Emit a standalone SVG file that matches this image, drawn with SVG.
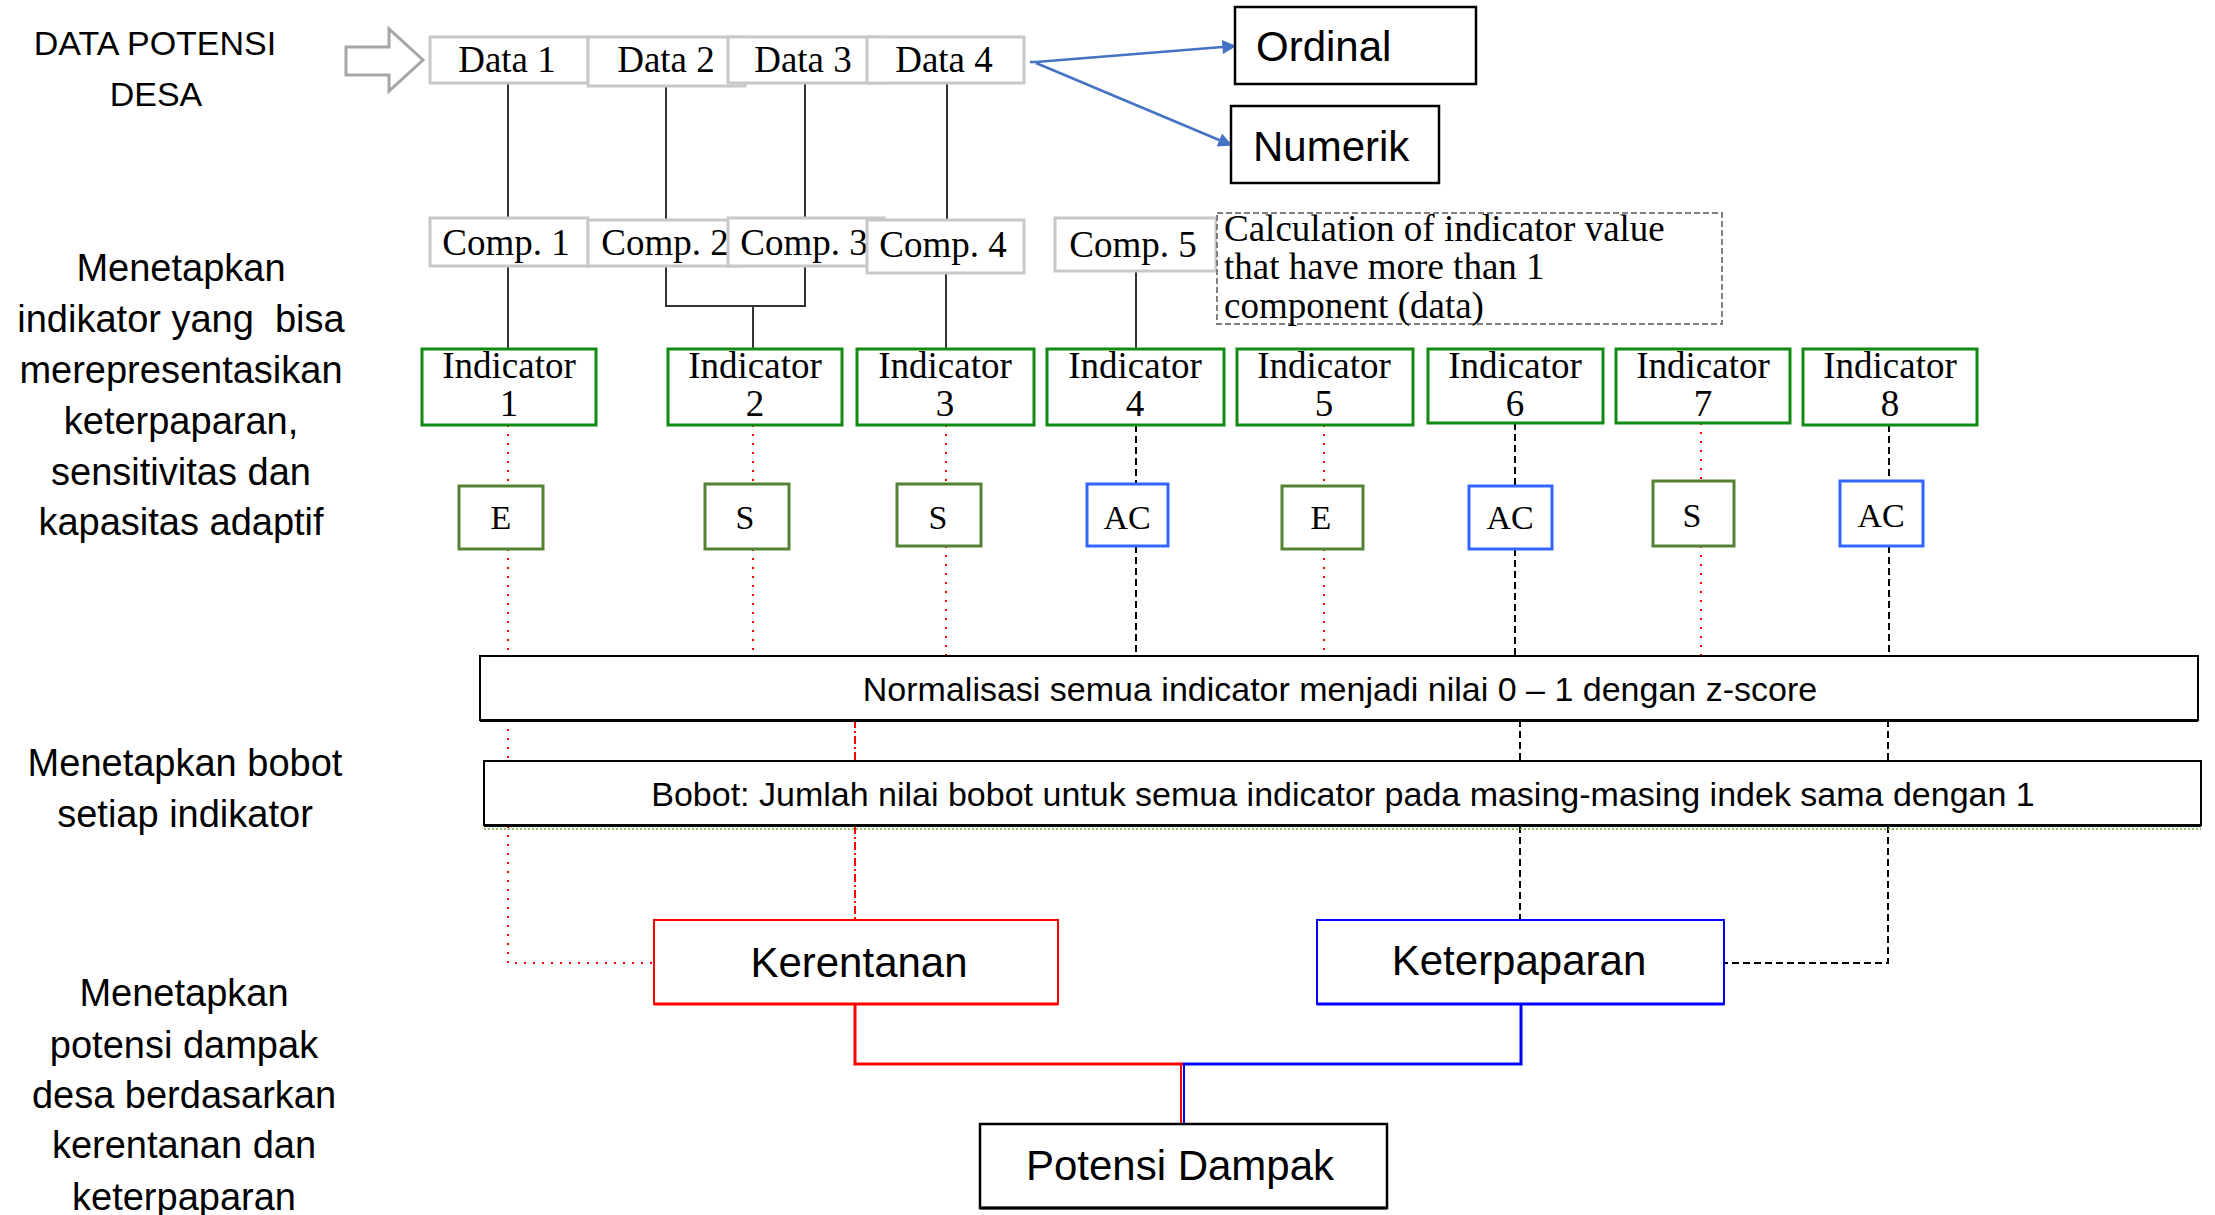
<svg xmlns="http://www.w3.org/2000/svg" width="2215" height="1215" viewBox="0 0 2215 1215">
<defs>
<marker id="ab" viewBox="0 0 10 10" refX="9" refY="5" markerWidth="16" markerHeight="14" orient="auto" markerUnits="userSpaceOnUse"><path d="M0,0 L10,5 L0,10 z" fill="#4472C4"/></marker>
<style>
.sans{font-family:"Liberation Sans",Arial,sans-serif;fill:#000}
.serif{font-family:"Liberation Serif","Times New Roman",serif;fill:#000}
.lbl{font-size:38px;text-anchor:middle}
.dbox{fill:#fff;stroke:#C8C8C8;stroke-width:3}
.ibox{fill:#fff;stroke:#108A10;stroke-width:3}
.gbox{fill:#fff;stroke:#548235;stroke-width:3}
.bbox{fill:#fff;stroke:#3366FF;stroke-width:3}
.t35{font-size:37px;text-anchor:middle}
.t32{font-size:34px;text-anchor:middle}
.red{stroke:#FF0000;stroke-width:2;stroke-dasharray:2,7;fill:none}
.blk{stroke:#000;stroke-width:2;stroke-dasharray:7,4;fill:none}
.rdd{stroke:#FF0000;stroke-width:2;stroke-dasharray:8,3,2,3;fill:none}
.solid{stroke:#333;stroke-width:2;fill:none}
</style>
</defs>
<rect width="2215" height="1215" fill="#fff"/>

<g id="labels" class="sans">
<text x="155" y="55" font-size="34" text-anchor="middle">DATA POTENSI</text>
<text x="156" y="106" font-size="34" text-anchor="middle">DESA</text>
<g class="lbl">
<text x="181" y="281">Menetapkan</text>
<text x="181" y="332" xml:space="preserve">indikator yang  bisa</text>
<text x="181" y="383">merepresentasikan</text>
<text x="181" y="434">keterpaparan,</text>
<text x="181" y="485">sensitivitas dan</text>
<text x="181" y="535">kapasitas adaptif</text>
<text x="185" y="776">Menetapkan bobot</text>
<text x="185" y="827">setiap indikator</text>
<text x="184" y="1006">Menetapkan</text>
<text x="184" y="1058">potensi dampak</text>
<text x="184" y="1108">desa berdasarkan</text>
<text x="184" y="1158">kerentanan dan</text>
<text x="184" y="1210">keterpaparan</text>
</g>
</g>

<g id="input-arrow"><polygon points="346,47 389,47 389,29 423,60 389,91 389,75 346,75" fill="#fff" stroke="#A6A6A6" stroke-width="3"/></g>

<g id="connectors">
<line class="solid" x1="508" y1="83" x2="508" y2="218"/>
<line class="solid" x1="666" y1="86" x2="666" y2="220"/>
<line class="solid" x1="805" y1="83" x2="805" y2="218"/>
<line class="solid" x1="947" y1="83" x2="947" y2="220"/>
<line class="solid" x1="508" y1="266" x2="508" y2="349"/>
<polyline class="solid" points="666,266 666,306 805,306 805,266"/>
<line class="solid" x1="753" y1="306" x2="753" y2="349"/>
<line class="solid" x1="946" y1="273" x2="946" y2="349"/>
<line class="solid" x1="1136" y1="271" x2="1136" y2="349"/>
<polyline points="1030,62 1036,62 1235,46" fill="none" stroke="#4472C4" stroke-width="2.5" marker-end="url(#ab)"/>
<line x1="1036" y1="63" x2="1231" y2="145" stroke="#4472C4" stroke-width="2.5" marker-end="url(#ab)"/>
<line class="red" x1="508" y1="425" x2="508" y2="486"/>
<line class="red" x1="753" y1="425" x2="753" y2="484"/>
<line class="red" x1="946" y1="425" x2="946" y2="484"/>
<line class="blk" x1="1136" y1="425" x2="1136" y2="484"/>
<line class="red" x1="1324" y1="425" x2="1324" y2="486"/>
<line class="blk" x1="1515" y1="423" x2="1515" y2="486"/>
<line class="red" x1="1701" y1="423" x2="1701" y2="481"/>
<line class="blk" x1="1889" y1="425" x2="1889" y2="481"/>
<line class="red" x1="508" y1="549" x2="508" y2="655"/>
<line class="red" x1="753" y1="549" x2="753" y2="655"/>
<line class="red" x1="946" y1="546" x2="946" y2="655"/>
<line class="blk" x1="1136" y1="546" x2="1136" y2="655"/>
<line class="red" x1="1324" y1="549" x2="1324" y2="655"/>
<line class="blk" x1="1515" y1="549" x2="1515" y2="655"/>
<line class="red" x1="1701" y1="546" x2="1701" y2="655"/>
<line class="blk" x1="1889" y1="546" x2="1889" y2="655"/>
<line class="red" x1="508" y1="720" x2="508" y2="761"/>
<line class="rdd" x1="855" y1="720" x2="855" y2="761"/>
<line class="blk" x1="1520" y1="720" x2="1520" y2="761"/>
<line class="blk" x1="1888" y1="720" x2="1888" y2="761"/>
<polyline class="red" points="508,826 508,963 654,963"/>
<line class="rdd" x1="855" y1="826" x2="855" y2="920"/>
<line class="blk" x1="1520" y1="826" x2="1520" y2="920"/>
<polyline class="blk" points="1888,826 1888,963 1724,963"/>
<polyline points="855,1004 855,1064 1183,1064" fill="none" stroke="#FF0000" stroke-width="3"/>
<polyline points="1521,1004 1521,1064 1183,1064" fill="none" stroke="#0000FF" stroke-width="3"/>
<line x1="1181" y1="1064" x2="1181" y2="1124" stroke="#FF0000" stroke-width="2"/>
<line x1="1184" y1="1064" x2="1184" y2="1124" stroke="#0000FF" stroke-width="2"/>
</g>

<g id="data-boxes" class="serif t35">
<g id="data1"><rect class="dbox" x="430" y="37" width="158" height="46"/><text x="507" y="72">Data 1</text></g>
<g id="data2"><rect class="dbox" x="588" y="37" width="157" height="49"/><text x="666" y="72">Data 2</text></g>
<g id="data3"><rect class="dbox" x="728" y="37" width="156" height="46"/><text x="803" y="72">Data 3</text></g>
<g id="data4"><rect class="dbox" x="867" y="37" width="157" height="46"/><text x="944" y="72">Data 4</text></g>
</g>

<g id="comp-boxes" class="serif t35">
<g id="comp1"><rect class="dbox" x="430" y="218" width="158" height="48"/><text x="506" y="255">Comp. 1</text></g>
<g id="comp2"><rect class="dbox" x="588" y="220" width="157" height="46"/><text x="665" y="255">Comp. 2</text></g>
<g id="comp3"><rect class="dbox" x="728" y="218" width="156" height="48"/><text x="804" y="255">Comp. 3</text></g>
<g id="comp4"><rect class="dbox" x="867" y="220" width="157" height="53"/><text x="943" y="257">Comp. 4</text></g>
<g id="comp5"><rect class="dbox" x="1055" y="218" width="161" height="53"/><text x="1133" y="257">Comp. 5</text></g>
</g>

<g id="note" class="serif" font-size="37">
<rect x="1217" y="213" width="505" height="111" fill="#fff" stroke="#7F7F7F" stroke-width="2" stroke-dasharray="6,3"/>
<text x="1224" y="241">Calculation of indicator value</text>
<text x="1224" y="279">that have more than 1</text>
<text x="1224" y="318">component (data)</text>
</g>

<g id="ordinal"><rect x="1235" y="7" width="241" height="77" fill="#fff" stroke="#000" stroke-width="2.5"/><text class="sans" x="1256" y="61" font-size="42">Ordinal</text></g>
<g id="numerik"><rect x="1231" y="106" width="208" height="77" fill="#fff" stroke="#000" stroke-width="2.5"/><text class="sans" x="1253" y="161" font-size="42">Numerik</text></g>

<g id="indicators" class="serif t35">
<g id="ind1"><rect class="ibox" x="422" y="349" width="174" height="76"/><text x="509" y="378">Indicator</text><text x="509" y="416">1</text></g>
<g id="ind2"><rect class="ibox" x="668" y="349" width="174" height="76"/><text x="755" y="378">Indicator</text><text x="755" y="416">2</text></g>
<g id="ind3"><rect class="ibox" x="857" y="349" width="177" height="76"/><text x="945" y="378">Indicator</text><text x="945" y="416">3</text></g>
<g id="ind4"><rect class="ibox" x="1047" y="349" width="177" height="76"/><text x="1135" y="378">Indicator</text><text x="1135" y="416">4</text></g>
<g id="ind5"><rect class="ibox" x="1237" y="349" width="176" height="76"/><text x="1324" y="378">Indicator</text><text x="1324" y="416">5</text></g>
<g id="ind6"><rect class="ibox" x="1428" y="349" width="175" height="74"/><text x="1515" y="378">Indicator</text><text x="1515" y="416">6</text></g>
<g id="ind7"><rect class="ibox" x="1616" y="349" width="174" height="74"/><text x="1703" y="378">Indicator</text><text x="1703" y="416">7</text></g>
<g id="ind8"><rect class="ibox" x="1803" y="349" width="174" height="76"/><text x="1890" y="378">Indicator</text><text x="1890" y="416">8</text></g>
</g>

<g id="categories" class="serif t32">
<g id="cat1"><rect class="gbox" x="459" y="486" width="84" height="63"/><text x="501" y="529">E</text></g>
<g id="cat2"><rect class="gbox" x="705" y="484" width="84" height="65"/><text x="745" y="529">S</text></g>
<g id="cat3"><rect class="gbox" x="897" y="484" width="84" height="62"/><text x="938" y="529">S</text></g>
<g id="cat4"><rect class="bbox" x="1087" y="484" width="81" height="62"/><text x="1127" y="529">AC</text></g>
<g id="cat5"><rect class="gbox" x="1282" y="486" width="81" height="63"/><text x="1321" y="529">E</text></g>
<g id="cat6"><rect class="bbox" x="1469" y="486" width="83" height="63"/><text x="1510" y="529">AC</text></g>
<g id="cat7"><rect class="gbox" x="1653" y="481" width="81" height="65"/><text x="1692" y="527">S</text></g>
<g id="cat8"><rect class="bbox" x="1840" y="481" width="83" height="65"/><text x="1881" y="527">AC</text></g>
</g>

<g id="normalisasi">
<rect x="480" y="656" width="1718" height="64" fill="#fff" stroke="#000" stroke-width="2"/>
<line x1="480" y1="721" x2="2198" y2="721" stroke="#000" stroke-width="2"/>
<text class="sans" x="1340" y="701" font-size="34" text-anchor="middle">Normalisasi semua indicator menjadi nilai 0 – 1 dengan z-score</text>
</g>
<g id="bobot">
<rect x="484" y="761" width="1717" height="64" fill="#fff" stroke="#000" stroke-width="2"/>
<line x1="484" y1="826" x2="2201" y2="826" stroke="#000" stroke-width="2"/>
<line x1="484" y1="829" x2="2201" y2="829" stroke="#70AD47" stroke-width="1.5" stroke-dasharray="2,2"/>
<text class="sans" x="1343" y="806" font-size="34" text-anchor="middle">Bobot: Jumlah nilai bobot untuk semua indicator pada masing-masing indek sama dengan 1</text>
</g>

<g id="kerentanan">
<rect x="654" y="920" width="404" height="84" fill="#fff" stroke="#FF0000" stroke-width="2"/>
<line x1="654" y1="1004" x2="1058" y2="1004" stroke="#FF0000" stroke-width="3"/>
<text class="sans" x="859" y="977" font-size="42" text-anchor="middle">Kerentanan</text>
</g>
<g id="keterpaparan">
<rect x="1317" y="920" width="407" height="84" fill="#fff" stroke="#0000FF" stroke-width="2"/>
<line x1="1317" y1="1004" x2="1724" y2="1004" stroke="#0000FF" stroke-width="3"/>
<text class="sans" x="1519" y="975" font-size="42" text-anchor="middle">Keterpaparan</text>
</g>
<g id="potensi-dampak">
<rect x="980" y="1124" width="407" height="84" fill="#fff" stroke="#000" stroke-width="2.5"/>
<line x1="980" y1="1208" x2="1387" y2="1208" stroke="#000" stroke-width="3"/>
<text class="sans" x="1180" y="1180" font-size="42" text-anchor="middle">Potensi Dampak</text>
</g>
</svg>
